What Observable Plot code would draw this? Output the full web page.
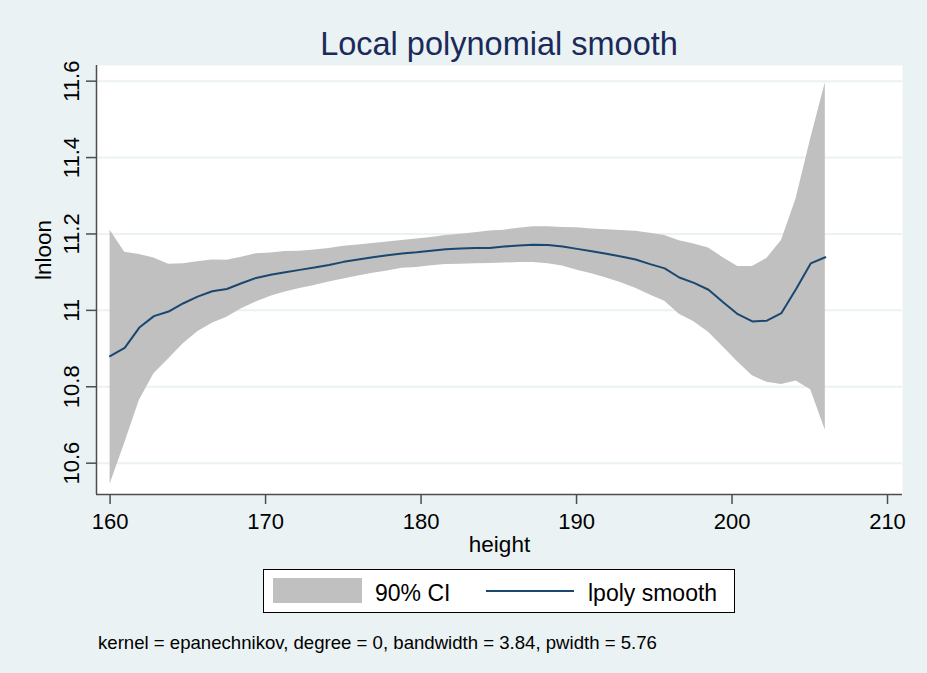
<!DOCTYPE html>
<html>
<head>
<meta charset="utf-8">
<script src="https://cdn.jsdelivr.net/npm/d3@7"></script>
<script src="https://cdn.jsdelivr.net/npm/@observablehq/plot@0.6"></script>
<style>
  body { margin: 0; background: #eaf2f3; }
  #wrap { position: relative; width: 927px; height: 673px; background: #eaf2f3; overflow: hidden;
          font-family: "Liberation Sans", Arial, sans-serif; }
  #chart { position: absolute; left: 0; top: 0; }
  .t { position: absolute; white-space: nowrap; line-height: 1; }
</style>
</head>
<body>
<div id="wrap">
  <div id="chart"></div>
  <div class="t" style="left:0;width:998px;text-align:center;top:27.5px;font-size:32.5px;color:#1a2a5a;" id="ttl"></div>
  <div style="position:absolute;left:263px;top:569px;width:472px;height:44px;box-sizing:border-box;border:1px solid #000;background:#fff;"></div>
  <div style="position:absolute;left:273px;top:578px;width:89px;height:25px;background:#c0c0c0;"></div>
  <div class="t" style="left:375px;top:582.3px;font-size:23px;color:#000;" id="lg1"></div>
  <div style="position:absolute;left:486px;top:590px;width:88px;height:2px;background:#1a476f;"></div>
  <div class="t" style="left:588px;top:582.3px;font-size:23px;color:#000;" id="lg2"></div>
  <div class="t" style="left:98px;top:633.6px;font-size:18.6px;color:#000;" id="cap"></div>
</div>
<script>
// lpoly evaluation grid (height) and estimates
const height = [160.00,160.94,161.88,162.82,163.76,164.69,165.63,166.57,167.51,168.45,
  169.39,170.33,171.27,172.20,173.14,174.08,175.02,175.96,176.90,177.84,
  178.78,179.71,180.65,181.59,182.53,183.47,184.41,185.35,186.29,187.22,
  188.16,189.10,190.04,190.98,191.92,192.86,193.80,194.73,195.67,196.61,
  197.55,198.49,199.43,200.37,201.31,202.24,203.18,204.12,205.06,206.00];
const smooth = [10.880,10.902,10.955,10.985,10.997,11.018,11.036,11.050,11.056,11.071,
  11.085,11.093,11.100,11.106,11.112,11.119,11.127,11.133,11.139,11.144,
  11.149,11.152,11.156,11.160,11.162,11.163,11.163,11.167,11.170,11.172,
  11.171,11.167,11.161,11.155,11.148,11.141,11.133,11.121,11.110,11.086,
  11.072,11.054,11.021,10.990,10.971,10.973,10.993,11.056,11.123,11.139];
const ciUpper = [11.210,11.152,11.146,11.137,11.121,11.122,11.127,11.132,11.131,11.139,
  11.148,11.150,11.154,11.155,11.158,11.162,11.168,11.171,11.175,11.179,
  11.183,11.187,11.191,11.196,11.199,11.203,11.208,11.210,11.215,11.219,
  11.219,11.217,11.216,11.213,11.211,11.209,11.207,11.202,11.196,11.182,
  11.174,11.163,11.138,11.115,11.115,11.136,11.183,11.292,11.449,11.596];
const ciLower = [10.545,10.652,10.764,10.834,10.873,10.912,10.944,10.966,10.982,11.004,
  11.022,11.037,11.048,11.057,11.065,11.074,11.082,11.090,11.097,11.103,
  11.110,11.112,11.117,11.120,11.121,11.122,11.123,11.124,11.125,11.125,
  11.122,11.116,11.105,11.096,11.085,11.072,11.058,11.040,11.024,10.990,
  10.970,10.943,10.904,10.865,10.829,10.812,10.806,10.815,10.792,10.686];

const xTicks = [160, 170, 180, 190, 200, 210];
const yTicks = [10.6, 10.8, 11.0, 11.2, 11.4, 11.6];
const yTickLabels = ["10.6", "10.8", "11", "11.2", "11.4", "11.6"];
const xDomain = [159.126, 210.964];
const yDomain = [10.518, 11.641];

const titleText = "Local polynomial smooth";
const xLabel = "height";
const yLabel = "lnloon";
const legendLabels = ["90% CI", "lpoly smooth"];
const captionText = "kernel = epanechnikov, degree = 0, bandwidth = 3.84, pwidth = 5.76";

const data = height.map((h, i) => ({height: h, smooth: smooth[i], lo: ciLower[i], hi: ciUpper[i]}));

const axisColor = "#4d4d4d";
const chart = Plot.plot({
  width: 927,
  height: 673,
  marginLeft: 96,
  marginRight: 25,
  marginTop: 65,
  marginBottom: 179,
  style: {fontFamily: "'Liberation Sans', Arial, sans-serif", fontSize: "22px", background: "transparent", color: "#000"},
  x: {domain: xDomain},
  y: {domain: yDomain},
  marks: [
    Plot.frame({fill: "white", stroke: null}),
    Plot.gridY(yTicks, {stroke: "#eaf2f3", strokeOpacity: 1, strokeWidth: 2}),
    Plot.areaY(data, {x: "height", y1: "lo", y2: "hi", fill: "#c0c0c0", curve: "linear"}),
    Plot.line(data, {x: "height", y: "smooth", stroke: "#1a476f", strokeWidth: 2, curve: "linear"}),
    Plot.ruleX([xDomain[0]], {stroke: axisColor, strokeWidth: 1.5}),
    Plot.ruleY([yDomain[0]], {stroke: axisColor, strokeWidth: 1.5}),
    Plot.axisX({ticks: xTicks, tickSize: 10, tickPadding: 9, stroke: axisColor, strokeWidth: 1.5,
                fill: "#000", fontSize: 22, label: null, tickFormat: d => String(d)}),
    Plot.axisY({ticks: yTicks, tickSize: 10, tickPadding: 8, tickRotate: -90, stroke: axisColor, strokeWidth: 1.5,
                fill: "#000", fontSize: 22, label: null, tickFormat: (d, i) => yTickLabels[yTicks.indexOf(d)]}),
    Plot.text([xLabel], {frameAnchor: "bottom", dy: 57, lineAnchor: "bottom", fontSize: 22.5, fill: "#000"}),
    Plot.text([yLabel], {frameAnchor: "left", dx: -46, rotate: -90, lineAnchor: "bottom", fontSize: 22.5, fill: "#000"})
  ]
});
document.getElementById("chart").appendChild(chart);
document.getElementById("ttl").textContent = titleText;
document.getElementById("lg1").textContent = legendLabels[0];
document.getElementById("lg2").textContent = legendLabels[1];
document.getElementById("cap").textContent = captionText;
</script>
</body>
</html>
